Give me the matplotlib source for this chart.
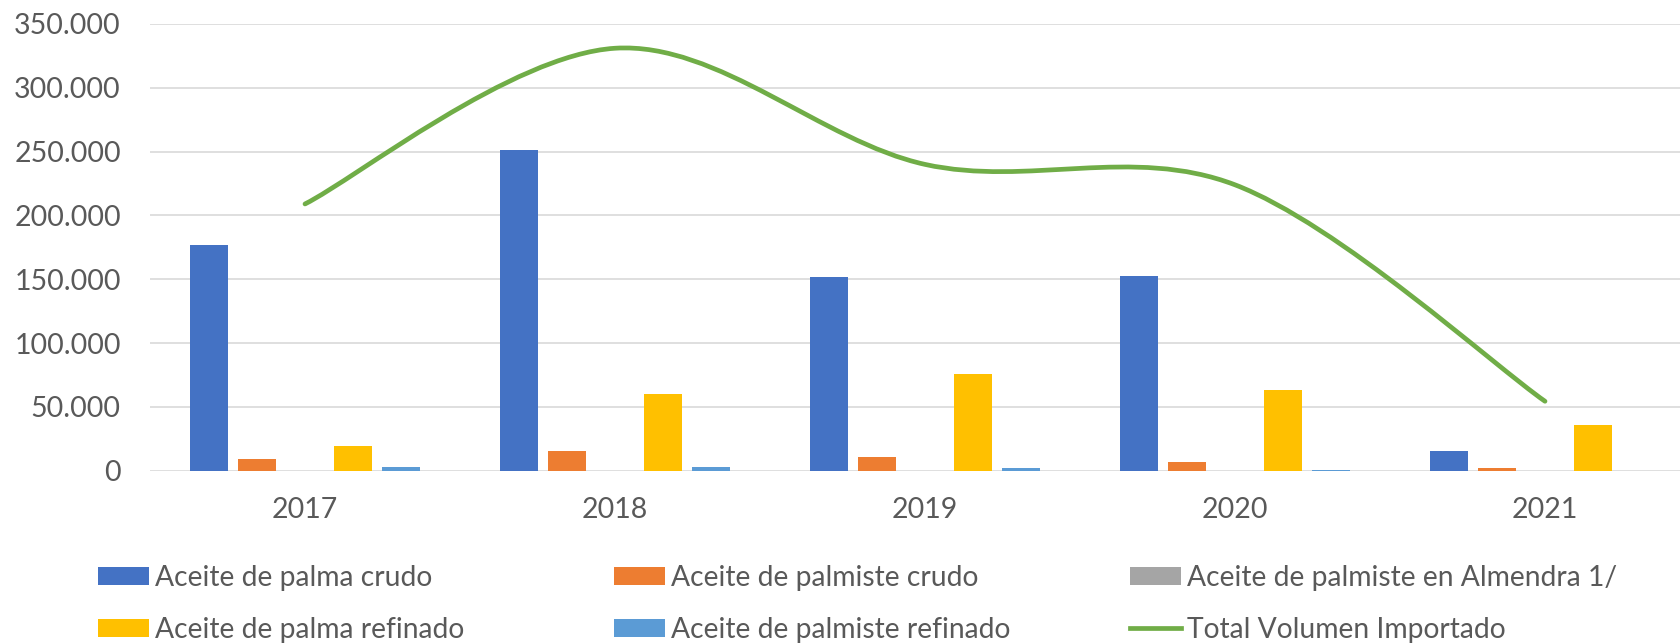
import matplotlib.pyplot as plt
from matplotlib.path import Path
from matplotlib.patches import PathPatch
from matplotlib.lines import Line2D
from matplotlib.ticker import FuncFormatter

# data
years = ['2017', '2018', '2019', '2020', '2021']
palma_crudo = [176900, 251000, 151500, 152400, 15500]
palmiste_crudo = [9000, 15500, 10800, 6900, 2100]
palmiste_almendra = [0, 0, 0, 0, 0]
palma_refinado = [19500, 60200, 75500, 63600, 36000]
palmiste_refinado = [2900, 3000, 1900, 800, 0]
total = [209000, 331000, 240000, 224000, 54400]

series = [
    ('Aceite de palma crudo', palma_crudo, '#4472C4'),
    ('Aceite de palmiste crudo', palmiste_crudo, '#ED7D31'),
    ('Aceite de palmiste en Almendra 1/', palmiste_almendra, '#A5A5A5'),
    ('Aceite de palma refinado', palma_refinado, '#FFC000'),
    ('Aceite de palmiste refinado', palmiste_refinado, '#5B9BD5'),
]
line_color = '#70AD47'
text_color = '#595959'

plt.rcParams['font.family'] = ['Lato', 'DejaVu Sans']
fs = 20.5
fs_leg = 20.3

fig = plt.figure(figsize=(16.8, 6.43), dpi=100)
ax = fig.add_axes([150 / 1680, 1 - 470.7 / 643, 1550 / 1680, 446.7 / 643])

x = list(range(len(years)))
step = 0.155
width = 0.124
handles = {}
for k, (name, vals, col) in enumerate(series):
    pos = [i + (k - 2) * step for i in x]
    handles[name] = ax.bar(pos, vals, width=width, color=col, zorder=2)

# smoothed line (Excel-like Catmull-Rom bezier)
pts = list(zip(x, total))
verts = [pts[0]]
codes = [Path.MOVETO]
n = len(pts)
for i in range(n - 1):
    p0 = pts[i - 1] if i > 0 else pts[i]
    p1 = pts[i]
    p2 = pts[i + 1]
    p3 = pts[i + 2] if i + 2 < n else pts[i + 1]
    c1 = (p1[0] + (p2[0] - p0[0]) / 6, p1[1] + (p2[1] - p0[1]) / 6)
    c2 = (p2[0] - (p3[0] - p1[0]) / 6, p2[1] - (p3[1] - p1[1]) / 6)
    verts += [c1, c2, p2]
    codes += [Path.CURVE4] * 3
ax.add_patch(PathPatch(Path(verts, codes), fill=False, edgecolor=line_color,
                       lw=3.4, capstyle='round', joinstyle='round', zorder=3))

ax.set_xlim(-0.5, 4.5)
ax.set_ylim(0, 350000)
ax.set_yticks(range(0, 350001, 50000))
ax.yaxis.set_major_formatter(FuncFormatter(lambda v, p: f'{int(v):,}'.replace(',', '.')))
ax.set_xticks(x)
ax.set_xticklabels(years)
ax.tick_params(axis='both', length=0, labelsize=fs, colors=text_color)
ax.tick_params(axis='y', pad=21)
ax.tick_params(axis='x', pad=19)
ax.grid(axis='y', color='#D9D9D9', lw=1.2, zorder=0)
ax.set_axisbelow(True)
for s in ax.spines.values():
    s.set_visible(False)

green = Line2D([], [], color=line_color, lw=3.4)
cols = [
    (98, ['Aceite de palma crudo', 'Aceite de palma refinado']),
    (614, ['Aceite de palmiste crudo', 'Aceite de palmiste refinado']),
    (1130, ['Aceite de palmiste en Almendra 1/', 'Total Volumen Importado']),
]
for xpx, names in cols:
    hs = [green if nm == 'Total Volumen Importado' else handles[nm] for nm in names]
    fig.legend(hs, names, loc='upper left', bbox_to_anchor=(xpx / 1680, 1 - 565 / 643),
               frameon=False, fontsize=fs_leg, labelcolor=text_color, handlelength=1.81,
               handleheight=0.6, handletextpad=0.21, labelspacing=0.92,
               borderpad=0, borderaxespad=0)

fig.savefig('out.png', dpi=100)
